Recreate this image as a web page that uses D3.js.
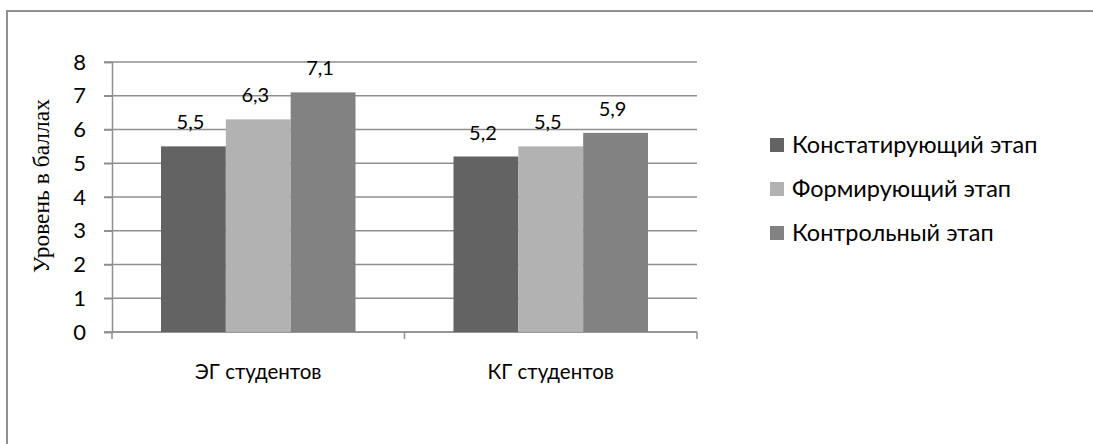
<!DOCTYPE html>
<html>
<head>
<meta charset="utf-8">
<script src="https://cdn.jsdelivr.net/npm/d3@7"></script>
<style>
  body { margin: 0; background: #fff; }
  svg { display: block; }
</style>
</head>
<body>
<svg id="chart" width="1093" height="444"></svg>
<script>
var categories = ['ЭГ студентов', 'КГ студентов'];
var series = ['Констатирующий этап', 'Формирующий этап', 'Контрольный этап'];
var values = [
  [5.5, 5.2],   // Констатирующий этап
  [6.3, 5.5],   // Формирующий этап
  [7.1, 5.9]    // Контрольный этап
];
var yTicks = [0, 1, 2, 3, 4, 5, 6, 7, 8];
var colors = ['#636363', '#b2b2b2', '#828282'];

var svg = d3.select('#chart');
var plot = {left: 112, right: 697, top: 62, bottom: 332};
var gridColor = '#8f8f8f';
var font = 'Lato, "Open Sans", sans-serif';

// outer frame (only left and top edges are visible in the picture)
svg.append('rect')
    .attr('x', 7).attr('y', 11)
    .attr('width', 1200).attr('height', 600)
    .attr('fill', 'none')
    .attr('stroke', gridColor)
    .attr('stroke-width', 2);

var x0 = d3.scaleBand()
    .domain(categories)
    .range([plot.left, plot.right])
    .paddingInner(0)
    .paddingOuter(0);

var x1 = d3.scaleBand()
    .domain(d3.range(series.length))
    .range([49, x0.bandwidth() - 49]);

var y = d3.scaleLinear()
    .domain([0, 8])
    .range([plot.bottom, plot.top]);

// gridlines
svg.append('g')
  .selectAll('line')
  .data(yTicks)
  .enter().append('line')
    .attr('x1', plot.left - 8)
    .attr('x2', plot.right)
    .attr('y1', function(d) { return y(d); })
    .attr('y2', function(d) { return y(d); })
    .attr('stroke', gridColor)
    .attr('stroke-width', 1.5);

// y axis
var yAxis = svg.append('g')
    .attr('transform', 'translate(' + plot.left + ',0)')
    .call(d3.axisLeft(y).tickValues(yTicks).tickSize(8).tickPadding(18));
yAxis.select('.domain').attr('stroke', gridColor).attr('stroke-width', 1.5);
yAxis.selectAll('.tick line').attr('stroke', gridColor).attr('stroke-width', 1.5);
yAxis.selectAll('.tick text')
    .attr('fill', '#000')
    .style('font-family', font)
    .style('font-size', '22px');

// x axis with ticks between categories
var xTickPos = [plot.left].concat(categories.map(function(c) { return x0(c) + x0.bandwidth(); }));
svg.append('line')
    .attr('x1', plot.left).attr('x2', plot.right)
    .attr('y1', plot.bottom).attr('y2', plot.bottom)
    .attr('stroke', gridColor).attr('stroke-width', 1.5);
svg.append('g')
  .selectAll('line')
  .data(xTickPos)
  .enter().append('line')
    .attr('x1', function(d) { return d; })
    .attr('x2', function(d) { return d; })
    .attr('y1', plot.bottom)
    .attr('y2', plot.bottom + 7)
    .attr('stroke', gridColor)
    .attr('stroke-width', 1.5);

svg.append('g')
  .selectAll('text')
  .data(categories)
  .enter().append('text')
    .attr('x', function(d) { return x0(d) + x0.bandwidth() / 2; })
    .attr('y', 379)
    .attr('text-anchor', 'middle')
    .style('font-family', font)
    .style('font-size', '20.5px')
    .text(function(d) { return d; });

// bars
var groups = svg.append('g')
  .selectAll('g')
  .data(categories)
  .enter().append('g')
    .attr('transform', function(d) { return 'translate(' + x0(d) + ',0)'; });

var cells = groups.selectAll('g')
  .data(function(d, ci) {
    return series.map(function(s, si) { return {s: si, v: values[si][ci]}; });
  })
  .enter().append('g');

cells.append('rect')
    .attr('x', function(d) { return x1(d.s); })
    .attr('width', x1.bandwidth())
    .attr('y', function(d) { return y(d.v); })
    .attr('height', function(d) { return y(0) - y(d.v); })
    .attr('fill', function(d) { return colors[d.s]; });

cells.append('text')
    .attr('x', function(d) { return x1(d.s) + x1.bandwidth() / 2 - 3; })
    .attr('y', function(d) { return y(d.v) - 17; })
    .attr('text-anchor', 'middle')
    .style('font-family', font)
    .style('font-size', '20px')
    .text(function(d) { return String(d.v).replace('.', ','); });

// y axis title
svg.append('text')
    .attr('transform', 'translate(49,186) rotate(-90)')
    .attr('text-anchor', 'middle')
    .style('font-family', '"Liberation Serif", "Times New Roman", serif')
    .style('font-size', '23.5px')
    .text('Уровень в баллах');

// legend
var legend = svg.append('g')
  .selectAll('g')
  .data(series)
  .enter().append('g')
    .attr('transform', function(d, i) { return 'translate(770,' + (145 + i * 44) + ')'; });

legend.append('rect')
    .attr('x', 0).attr('y', -7)
    .attr('width', 14).attr('height', 14)
    .attr('fill', function(d, i) { return colors[i]; });

legend.append('text')
    .attr('x', 22)
    .attr('dy', '0.35em')
    .style('font-family', font)
    .style('font-size', '23.5px')
    .text(function(d) { return d; });
</script>
</body>
</html>
